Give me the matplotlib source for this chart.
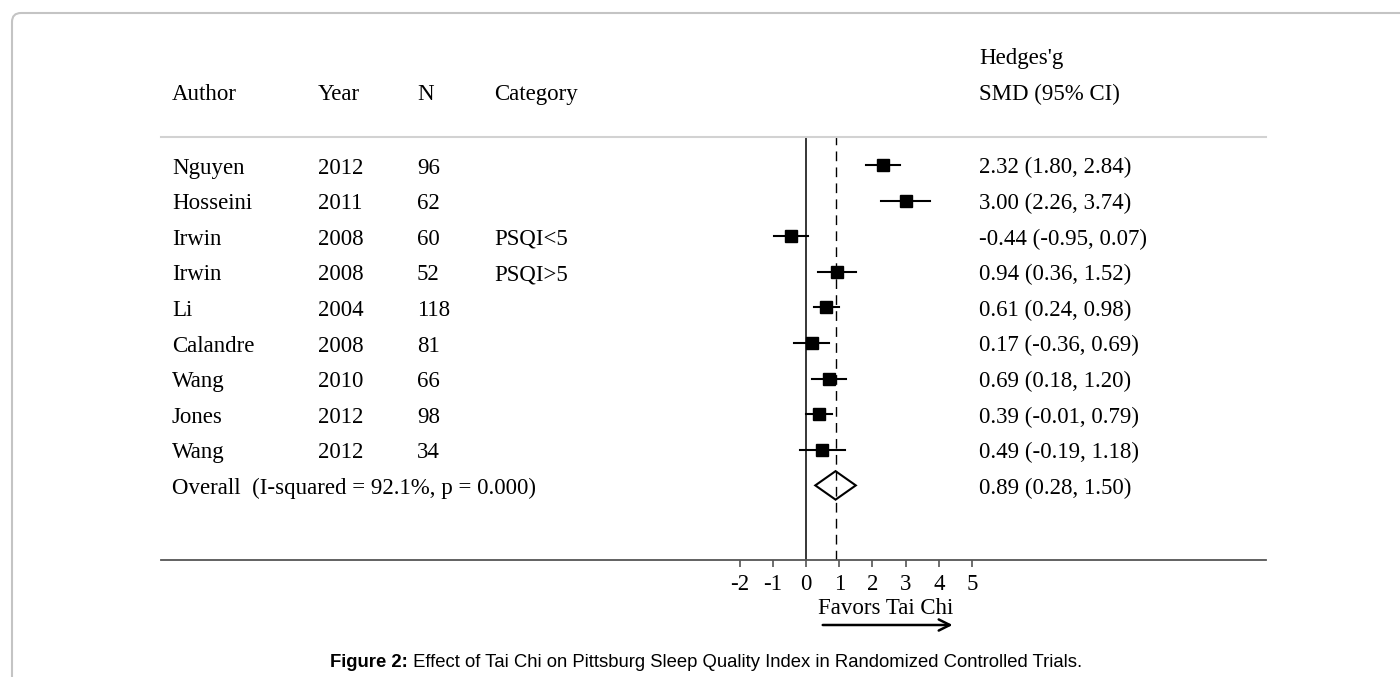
import matplotlib.pyplot as plt
import matplotlib.transforms as mtransforms
from matplotlib.patches import FancyBboxPatch

# ---- data ----
authors = ['Nguyen', 'Hosseini', 'Irwin', 'Irwin', 'Li', 'Calandre', 'Wang', 'Jones', 'Wang']
years = ['2012', '2011', '2008', '2008', '2004', '2008', '2010', '2012', '2012']
n_sizes = ['96', '62', '60', '52', '118', '81', '66', '98', '34']
categories = ['', '', 'PSQI<5', 'PSQI>5', '', '', '', '', '']
smd = [2.32, 3.00, -0.44, 0.94, 0.61, 0.17, 0.69, 0.39, 0.49]
ci_low = [1.80, 2.26, -0.95, 0.36, 0.24, -0.36, 0.18, -0.01, -0.19]
ci_high = [2.84, 3.74, 0.07, 1.52, 0.98, 0.69, 1.20, 0.79, 1.18]
overall_label = 'Overall  (I-squared = 92.1%, p = 0.000)'
overall_est, overall_low, overall_high = 0.89, 0.28, 1.50
xtick_vals = [-2, -1, 0, 1, 2, 3, 4, 5]
caption_bold = 'Figure 2:'
caption_rest = ' Effect of Tai Chi on Pittsburg Sleep Quality Index in Randomized Controlled Trials.'

W, H = 1400, 677
fig = plt.figure(figsize=(W / 100, H / 100), dpi=100)
serif = 'Liberation Serif'
fs = 16.5

# rounded frame of the page
frame = FancyBboxPatch((12, -40), 1450, 704, boxstyle='round,pad=0,rounding_size=9',
                       transform=None, fill=False, edgecolor='#c4c4c4', linewidth=1.5)
fig.patches.append(frame)

# main axes: x px 161..1266, y px 137..560
px0, px1, py_top, py_bot = 161, 1266, 137, 560
ax = fig.add_axes([px0 / W, 1 - py_bot / H, (px1 - px0) / W, (py_bot - py_top) / H])
zero_px, unit_px = 806, 33.2
ax.set_xlim((px0 - zero_px) / unit_px, (px1 - zero_px) / unit_px)
row0_px, row_px = 165, 35.6
ax.set_ylim((py_bot - row0_px) / row_px, (py_top - row0_px) / row_px)
ax.set_facecolor('none')

for s in ['left', 'right']:
    ax.spines[s].set_visible(False)
ax.spines['top'].set_color('#d2d2d2')
ax.spines['top'].set_linewidth(1.5)
ax.spines['bottom'].set_color('#555555')
ax.spines['bottom'].set_linewidth(1.3)
ax.set_yticks([])
ax.set_xticks(xtick_vals)
ax.set_xticklabels([str(v) for v in xtick_vals], family=serif, fontsize=fs)
ax.tick_params(axis='x', length=5, width=1.2, color='#555555', pad=5)

ax.axvline(0, color='black', lw=1.1)
ax.axvline(overall_est, color='black', lw=1.0, ls=(0, (7, 4.5)))

rows = list(range(len(authors)))
for i in rows:
    ax.plot([ci_low[i], ci_high[i]], [i, i], color='black', lw=1.5)
ax.plot(smd, rows, ls='none', marker='s', ms=8.3, color='black')

yo = len(authors)
ax.fill([overall_low, overall_est, overall_high, overall_est],
        [yo, yo - 0.4, yo, yo + 0.4], facecolor='white', edgecolor='black', lw=1.5)

# table text
tr = mtransforms.blended_transform_factory(fig.transFigure, ax.transData)
base = 8.5 / row_px
col_x = {'author': 172, 'year': 318, 'n': 417, 'cat': 494, 'est': 979}
for i in rows:
    y = i + base
    ax.text(col_x['author'] / W, y, authors[i], transform=tr, family=serif, fontsize=fs, va='baseline')
    ax.text(col_x['year'] / W, y, years[i], transform=tr, family=serif, fontsize=fs, va='baseline')
    ax.text(col_x['n'] / W, y, n_sizes[i], transform=tr, family=serif, fontsize=fs, va='baseline')
    ax.text(col_x['cat'] / W, y, categories[i], transform=tr, family=serif, fontsize=fs, va='baseline')
    ax.text(col_x['est'] / W, y, f'{smd[i]:.2f} ({ci_low[i]:.2f}, {ci_high[i]:.2f})',
            transform=tr, family=serif, fontsize=fs, va='baseline')
ax.text(col_x['author'] / W, yo + base, overall_label, transform=tr, family=serif, fontsize=fs, va='baseline')
ax.text(col_x['est'] / W, yo + base, f'{overall_est:.2f} ({overall_low:.2f}, {overall_high:.2f})',
        transform=tr, family=serif, fontsize=fs, va='baseline')

# headers
for label, key in [('Author', 'author'), ('Year', 'year'), ('N', 'n'), ('Category', 'cat'),
                   ('SMD (95% CI)', 'est')]:
    fig.text(col_x[key] / W, 1 - 100 / H, label, family=serif, fontsize=fs, va='baseline')
fig.text(col_x['est'] / W, 1 - 64 / H, "Hedges'g", family=serif, fontsize=fs, va='baseline')

# favors label and arrow
trx = mtransforms.blended_transform_factory(ax.transData, fig.transFigure)
ax.text(2.4, 1 - 614 / H, 'Favors Tai Chi', transform=trx, family=serif, fontsize=fs,
        ha='center', va='baseline')
ax.annotate('', xy=(4.5, 1 - 625 / H), xytext=(0.42, 1 - 625 / H),
            xycoords=trx, textcoords=trx, annotation_clip=False,
            arrowprops=dict(arrowstyle='->,head_length=0.8,head_width=0.4', lw=1.8, color='black'))

# caption: bold lead-in followed by regular text
cap_y = 1 - 667 / H
t1 = fig.text(330 / W, cap_y, caption_bold, family='Liberation Sans', fontsize=13.3,
              fontweight='bold', va='baseline')
ax.annotate(caption_rest, xy=(1, 0), xycoords=t1, va='bottom', ha='left',
            family='Liberation Sans', fontsize=13.3, annotation_clip=False)

plt.savefig('out.png', dpi=100)
